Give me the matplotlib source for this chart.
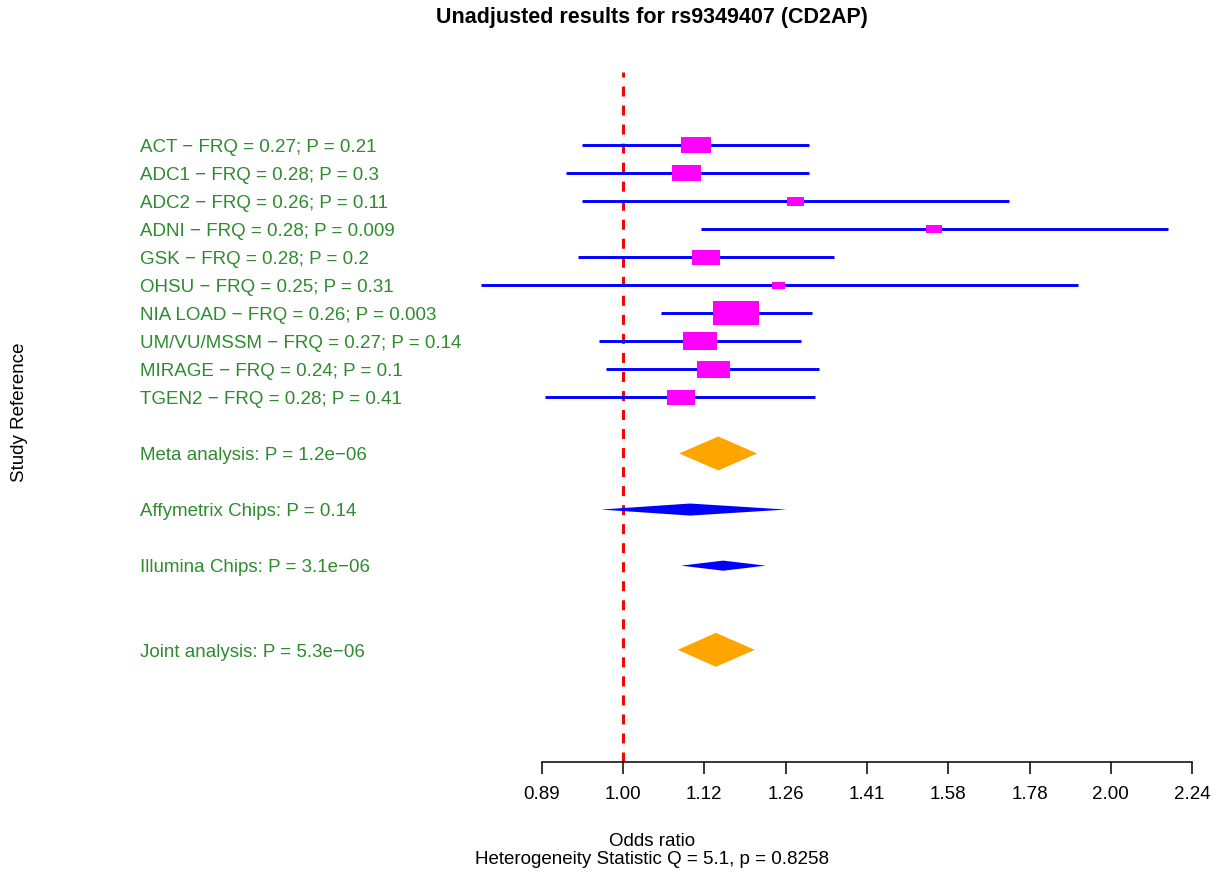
import numpy as np
import matplotlib
matplotlib.use("Agg")
import matplotlib.pyplot as plt
from matplotlib.transforms import blended_transform_factory

plt.rcParams['font.family'] = ['Liberation Sans', 'DejaVu Sans']
plt.rcParams['lines.scale_dashes'] = False

# ---------------- data ----------------
studies = ["ACT", "ADC1", "ADC2", "ADNI", "GSK", "OHSU", "NIA LOAD",
           "UM/VU/MSSM", "MIRAGE", "TGEN2"]
frq = ["0.27", "0.28", "0.26", "0.28", "0.28", "0.25", "0.26", "0.27", "0.24", "0.28"]
pvals = ["0.21", "0.3", "0.11", "0.009", "0.2", "0.31", "0.003", "0.14", "0.1", "0.41"]
odds = [1.109, 1.095, 1.277, 1.556, 1.125, 1.248, 1.174, 1.116, 1.137, 1.086]
ci_lo = [0.943, 0.922, 0.943, 1.117, 0.938, 0.817, 1.055, 0.966, 0.976, 0.895]
ci_hi = [1.302, 1.302, 1.731, 2.169, 1.350, 1.909, 1.308, 1.288, 1.321, 1.314]
weight = [0.65, 0.63, 0.37, 0.35, 0.61, 0.28, 1.00, 0.74, 0.72, 0.59]

summ_names = ["Meta analysis", "Affymetrix Chips", "Illumina Chips", "Joint analysis"]
summ_p = ["1.2e\u221206", "0.14", "3.1e\u221206", "5.3e\u221206"]
summ_est = [1.145, 1.100, 1.153, 1.141]
summ_lo = [1.083, 0.969, 1.086, 1.081]
summ_hi = [1.210, 1.261, 1.225, 1.206]

tick_vals = [0.89, 1.00, 1.12, 1.26, 1.41, 1.58, 1.78, 2.00, 2.24]
het_Q = "5.1"
het_p = "0.8258"

# ---------------- layout / style ----------------
W, H = 1220, 881
fig = plt.figure(figsize=(W / 100, H / 100), dpi=100)
ax_left, ax_right, ax_top, ax_bot = 470, 1200, 72, 762
ax = fig.add_axes([ax_left / W, 1 - ax_bot / H, (ax_right - ax_left) / W, (ax_bot - ax_top) / H])
ax.set_xscale('log', base=2)
# pixel mapping: 623 px -> 1.0, 487.8 px per doubling
px_per_log2 = 487.8
xmin = 2 ** ((ax_left - 623) / px_per_log2)
xmax = 2 ** ((ax_right - 623) / px_per_log2)
ax.set_xlim(xmin, xmax)
row_top, row_bot = -1.6, 23.0
ax.set_ylim(row_bot, row_top)

green = '#2E8B2E'
blue = '#0000FF'
magenta = '#FF00FF'
orange = '#FFA500'
fs = 13.5
text_shift = 0.08

study_rows = np.arange(1, len(studies) + 1)
summ_rows = [12, 14, 16, 19]
summ_colors = [orange, blue, blue, orange]
summ_height = [1.21, 0.43, 0.36, 1.21]

box_w_log2 = 46 / px_per_log2
box_h_rows = 24.5 / 28.1

# reference line
ax.axvline(1.0, color='#FF0000', lw=2.2, dashes=(7.2, 6.5), zorder=1)

# CIs and boxes
for r, o, lo, hi, w in zip(study_rows, odds, ci_lo, ci_hi, weight):
    ax.plot([lo, hi], [r, r], color=blue, lw=2.1, solid_capstyle='butt', zorder=2)
    hw = w * box_w_log2 / 2
    hh = w * box_h_rows / 2
    x0, x1 = o * 2 ** (-hw), o * 2 ** hw
    ax.fill([x0, x1, x1, x0], [r - hh, r - hh, r + hh, r + hh], color=magenta, lw=0, zorder=3)

# summary diamonds
for r, e, lo, hi, c, h in zip(summ_rows, summ_est, summ_lo, summ_hi, summ_colors, summ_height):
    ax.fill([lo, e, hi, e], [r, r - h / 2, r, r + h / 2], color=c, lw=0, zorder=3)

# labels
trans = blended_transform_factory(fig.transFigure, ax.transData)
for r, s, f, p in zip(study_rows, studies, frq, pvals):
    ax.text(140 / W, r + text_shift, f"{s} \u2212 FRQ = {f}; P = {p}", transform=trans,
            color=green, fontsize=fs, va='center', ha='left')
for r, s, p in zip(summ_rows, summ_names, summ_p):
    ax.text(140 / W, r + text_shift, f"{s}: P = {p}", transform=trans,
            color=green, fontsize=fs, va='center', ha='left')

# axes styling
for sp in ['top', 'left', 'right']:
    ax.spines[sp].set_visible(False)
ax.spines['bottom'].set_bounds(2 ** (-1 / 6), 2 ** (7 / 6))
ax.spines['bottom'].set_linewidth(1.1)
ax.set_yticks([])
ax.set_xticks([2 ** (k / 6) for k in range(-1, 8)])
ax.set_xticklabels([f"{v:.2f}" for v in tick_vals])
ax.xaxis.set_minor_locator(matplotlib.ticker.NullLocator())
ax.tick_params(axis='x', direction='out', length=8.5, width=1.1, pad=9, labelsize=fs)

# texts
fig.text(652 / W, 1 - 18 / H, "Unadjusted results for rs9349407 (CD2AP)",
         ha='center', va='center', fontsize=15.5, fontweight='bold')
fig.text(652 / W, 1 - 841 / H, "Odds ratio", ha='center', va='center', fontsize=fs)
fig.text(652 / W, 1 - 860 / H, f"Heterogeneity Statistic Q = {het_Q}, p = {het_p}",
         ha='center', va='center', fontsize=fs)
fig.text(20 / W, 1 - 412 / H, "Study Reference", rotation=90, ha='center', va='center',
         fontsize=fs)

fig.savefig("out.png", dpi=100)
